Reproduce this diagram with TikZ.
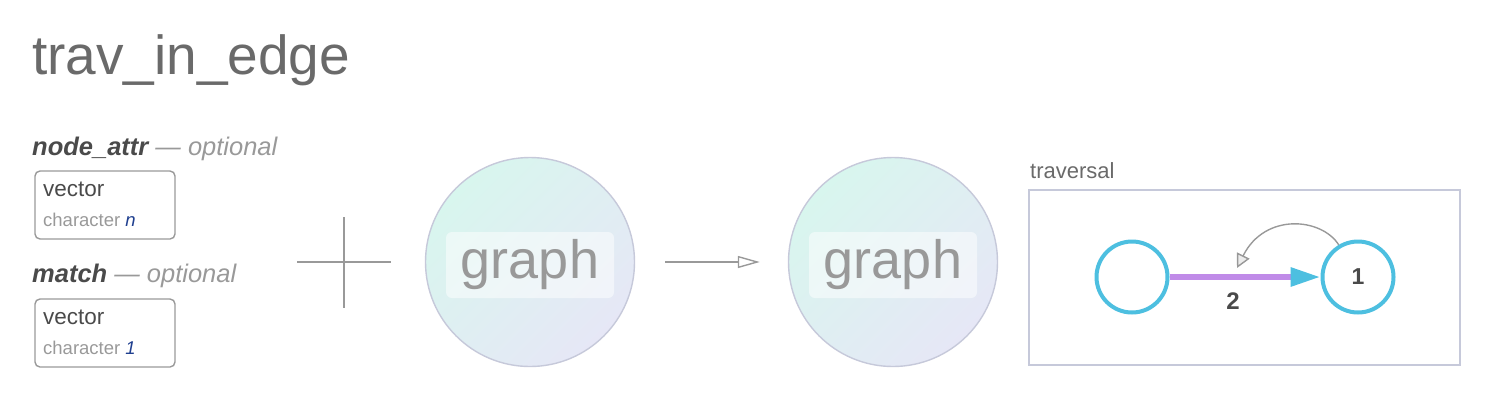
\documentclass[tikz,border=0pt]{standalone}
\usepackage{fontspec}
\setmainfont{Liberation Sans}
\usetikzlibrary{arrows.meta,shapes.geometric}
\definecolor{titlegray}{HTML}{6A6A6A}
\definecolor{darktext}{HTML}{4A4A4A}
\definecolor{optgray}{HTML}{999999}
\definecolor{boxgray}{HTML}{999999}
\definecolor{mint}{HTML}{D8F6EE}
\definecolor{lav}{HTML}{E6E7F6}
\definecolor{ringgray}{HTML}{C6C9DA}
\definecolor{cyanc}{HTML}{4DBFE0}
\definecolor{purp}{HTML}{C08BE8}
\definecolor{navy}{HTML}{1F3F8F}
\definecolor{linegray}{HTML}{999999}
\tikzset{
  typebox/.style={draw=boxgray, line width=1.4pt, rounded corners=5pt, minimum width=140pt, minimum height=68pt, inner sep=0pt},
  graphball/.style={circle, draw=ringgray, line width=1.4pt, minimum size=209pt, inner sep=0pt, shading=axis, top color=mint, bottom color=lav, shading angle=45},
  graphlabel/.style={rounded corners=6pt, fill=white, fill opacity=0.5, text opacity=1, text=optgray, minimum width=168pt, minimum height=66pt, inner sep=0pt, font=\fontsize{54}{60}\selectfont},
  travnode/.style={circle, draw=cyanc, line width=4pt, minimum size=71pt, inner sep=0pt, fill=white},
  headtext/.style={anchor=base west, inner sep=0pt},
}
\begin{document}
\begin{tikzpicture}[x=1pt, y=-1pt]
\useasboundingbox (0,0) rectangle (1510,400);
% title
\node[headtext, text=titlegray, font=\fontsize{55}{60}\selectfont] (title) at (32,74) {trav\_in\_edge};
% parameter headers
\node[headtext] (h1) at (32,155) {\fontsize{25.5}{28}\selectfont{\color{darktext}\bfseries\itshape node\_attr} {\color{optgray}\itshape — optional}};
\node[headtext] (h2) at (32,282) {\fontsize{25.5}{28}\selectfont{\color{darktext}\bfseries\itshape match} {\color{optgray}\itshape — optional}};
% type boxes
\node[typebox] (v1) at (105,205) {};
\node[typebox] (v2) at (105,333) {};
\node[headtext, text=darktext, font=\fontsize{22.5}{24}\selectfont] (v1a) at (43,196) {vector};
\node[headtext, text=optgray, font=\fontsize{18.5}{20}\selectfont] (v1b) at (43,226) {character {\color{navy}\itshape n}};
\node[headtext, text=darktext, font=\fontsize{22.5}{24}\selectfont] (v2a) at (43,324) {vector};
\node[headtext, text=optgray, font=\fontsize{18.5}{20}\selectfont] (v2b) at (43,354) {character {\color{navy}\itshape 1}};
% plus sign
\draw[linegray, line width=1.6pt] (297,262) -- (391,262);
\draw[linegray, line width=1.6pt] (344,217) -- (344,308);
% graph balls
\node[graphball] (g1) at (530,262) {};
\node[graphlabel] (l1) at (530,265) {graph};
\node[graphball] (g2) at (893,262) {};
\node[graphlabel] (l2) at (893,265) {graph};
\draw[linegray, line width=1.4pt, -{Triangle[open, length=22pt, width=12pt]}, shorten <=30pt, shorten >=28pt] (g1.east) -- (g2.west);
% traversal panel
\node[headtext, text=titlegray, font=\fontsize{22}{24}\selectfont] (tlab) at (1030,178) {traversal};
\node[draw=ringgray, line width=1.6pt, minimum width=431pt, minimum height=175pt, inner sep=0pt] (trav) at (1244.5,277.5) {};
\node[travnode] (a) at (1132,277) {};
\node[travnode, font=\fontsize{23}{26}\selectfont\bfseries, text=darktext] (b) at (1358,277) {1};
\draw[purp, line width=6pt, -{Triangle[length=30pt, width=18pt, color=cyanc]}] (a) -- node[pos=0.42, below=9pt, text=darktext, font=\fontsize{24}{28}\selectfont\bfseries] (w) {2} (b);
\coordinate (c) at (1237,268);
\draw[linegray, line width=1.4pt, -{Triangle[length=14pt, width=14pt, fill=gray!15]}] (b.121) .. controls (1322,218) and (1265,212) .. (c);
\end{tikzpicture}
\end{document}
